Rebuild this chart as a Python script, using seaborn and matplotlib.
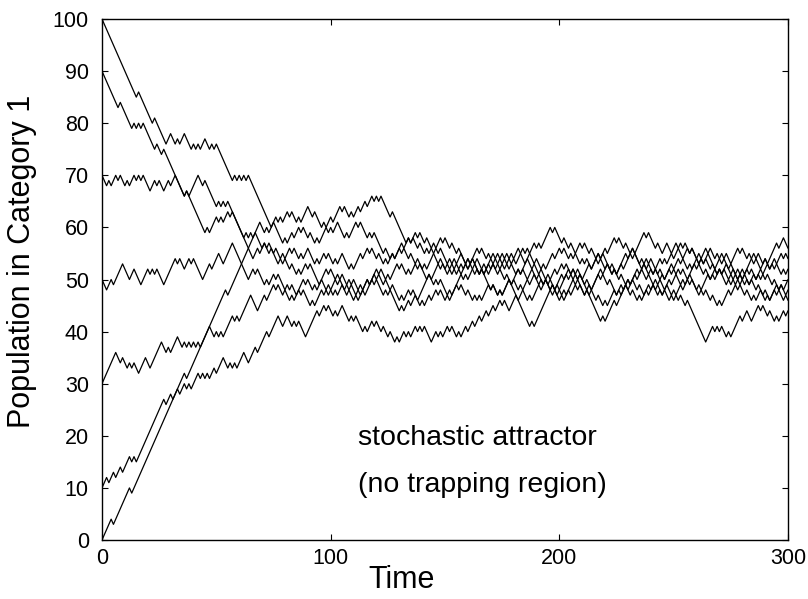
import numpy as np
import pandas as pd
import matplotlib
matplotlib.use("Agg")
import matplotlib.pyplot as plt
import seaborn as sns

# Turning points (time, population) of each trajectory
start100 = [(0,100),(15,85),(16,86),(22,80),(23,81),(28,76),(30,78),(32,76),(33,77),(34,76),(36,78),(39,75),(40,76),(41,75),(42,76),(43,75),(45,77),(47,75),(48,76),(49,75),(50,76),(51,75),(57,69),(58,70),(59,69),(60,70),(61,69),(62,70),(63,69),(64,70),(74,60),(76,62),(77,61),(78,62),(79,61),(81,63),(82,62),(83,63),(85,61),(86,62),(87,61),(90,64),(92,62),(93,63),(96,60),(97,61),(98,60),(100,62),(101,61),(104,64),(105,63),(106,64),(108,62),(109,63),(110,62),(112,64),(113,63),(115,65),(116,64),(118,66),(119,65),(120,66),(121,65),(122,66),(126,62),(127,63),(128,62),(133,57),(134,58),(135,57),(137,59),(138,58),(139,59),(141,57),(142,58),(147,53),(148,54),(150,52),(151,53),(152,52),(154,54),(155,53),(157,55),(159,53),(160,54),(163,51),(164,52),(165,51),(167,53),(168,52),(170,54),(171,53),(173,55),(175,53),(176,54),(178,52),(179,53),(181,51),(182,52),(183,51),(186,54),(188,52),(189,53),(191,51),(192,52),(194,50),(195,51),(196,50),(198,52),(199,51),(201,53),(202,52),(203,53),(205,51),(206,52),(208,50),(209,51),(210,50),(213,53),(214,52),(216,54),(217,53),(218,54),(220,52),(221,53),(223,51),(224,52),(225,51),(227,53),(228,52),(231,55),(232,54),(237,59),(238,58),(239,59),(242,56),(243,57),(245,55),(247,57),(249,55),(251,57),(254,54),(256,56),(257,55),(258,56),(263,51),(264,52),(266,50),(267,51),(268,50),(270,52),(271,51),(273,53),(275,51),(276,52),(278,50),(279,51),(281,49),(282,50),(283,49),(285,51),(286,50),(288,52),(290,50),(291,51),(293,49),(294,50),(296,48),(297,49),(298,48),(300,50)]

start90 = [(0,90),(7,83),(8,84),(13,79),(14,80),(15,79),(16,80),(17,79),(18,80),(19,79),(23,75),(24,76),(26,74),(27,75),(36,66),(37,67),(45,59),(46,60),(47,59),(50,62),(51,61),(52,62),(53,61),(55,63),(56,62),(57,63),(62,58),(63,59),(64,58),(65,59),(66,58),(67,59),(70,56),(71,57),(73,55),(74,56),(77,53),(78,54),(79,53),(80,54),(82,52),(83,53),(85,51),(86,52),(87,51),(89,53),(90,52),(91,53),(95,49),(96,50),(98,48),(99,49),(101,47),(102,48),(103,47),(105,49),(106,48),(108,50),(109,49),(110,50),(112,48),(113,49),(114,48),(116,50),(117,49),(119,51),(120,50),(121,51),(123,49),(124,50),(130,44),(131,45),(132,44),(134,46),(135,45),(137,47),(138,46),(143,51),(145,49),(146,50),(147,49),(148,50),(151,47),(152,48),(153,47),(157,51),(158,50),(159,51),(160,50),(163,53),(165,51),(166,52),(170,48),(171,49),(173,47),(174,48),(175,47),(178,50),(179,49),(182,52),(183,51),(184,52),(186,50),(188,52),(189,51),(191,49),(192,50),(193,49),(194,50),(197,47),(198,48),(199,47),(203,51),(204,50),(205,51),(206,50),(208,52),(209,51),(212,48),(213,49),(214,48),(215,49),(218,52),(219,51),(221,53),(222,52),(223,53),(226,50),(227,51),(229,49),(230,50),(231,49),(233,51),(234,50),(238,54),(239,53),(240,54),(243,51),(244,52),(246,50),(248,52),(249,51),(250,52),(253,49),(254,50),(255,49),(259,53),(260,52),(262,54),(263,53),(264,54),(266,52),(267,53),(268,52),(271,55),(272,54),(273,55),(275,53),(278,56),(279,55),(280,56),(282,54),(283,55),(285,53),(286,54),(288,52),(290,54),(291,53),(295,57),(296,56),(298,58),(300,56)]

start70 = [(0,70),(2,68),(3,69),(4,68),(6,70),(7,69),(8,70),(10,68),(11,69),(12,68),(14,70),(15,69),(16,70),(17,69),(18,70),(21,67),(23,69),(24,68),(25,69),(27,67),(29,69),(30,68),(32,70),(36,66),(37,67),(38,66),(39,67),(42,70),(44,68),(45,69),(50,64),(51,65),(52,64),(53,65),(54,64),(55,65),(66,54),(68,56),(69,55),(71,57),(72,56),(73,57),(75,55),(76,56),(78,54),(79,55),(80,54),(82,56),(83,55),(84,56),(86,54),(87,55),(88,54),(90,56),(91,55),(93,53),(94,54),(95,53),(97,55),(98,54),(99,55),(101,53),(102,54),(103,53),(105,55),(106,54),(108,52),(109,53),(110,52),(113,55),(114,54),(116,56),(117,55),(118,56),(120,54),(121,55),(123,53),(124,54),(125,53),(127,55),(128,54),(130,56),(131,55),(132,56),(134,54),(135,55),(137,53),(138,54),(140,52),(141,53),(142,52),(146,56),(147,55),(148,56),(149,55),(151,53),(152,54),(155,51),(156,52),(157,51),(159,53),(160,52),(161,53),(164,56),(165,55),(166,56),(168,54),(169,55),(170,54),(171,55),(174,52),(175,53),(176,52),(179,55),(180,54),(182,56),(183,55),(185,53),(189,57),(190,56),(191,57),(192,56),(193,57),(196,60),(197,59),(198,60),(201,57),(202,58),(204,56),(205,57),(209,53),(210,54),(211,53),(212,54),(214,52),(217,55),(218,54),(219,55),(220,54),(223,51),(224,52),(225,51),(226,52),(229,55),(230,54),(232,56),(233,55),(236,52),(237,53),(239,51),(240,52),(241,51),(244,54),(245,53),(246,54),(247,53),(249,55),(250,54),(253,57),(254,56),(255,57),(257,55),(258,56),(261,53),(262,54),(263,53),(265,55),(266,54),(269,51),(270,52),(271,51),(272,52),(274,50),(275,51),(277,49),(278,50),(279,49),(282,52),(283,51),(284,52),(286,50),(287,51),(288,50),(291,53),(292,52),(294,54),(295,53),(297,51),(298,52),(299,51),(300,52)]

start50 = [(0,50),(2,48),(4,50),(5,49),(9,53),(12,50),(14,52),(17,49),(20,52),(21,51),(22,52),(23,51),(24,52),(27,49),(32,54),(33,53),(34,54),(36,52),(38,54),(39,53),(40,54),(44,50),(47,53),(48,52),(51,55),(53,53),(57,57),(60,54),(64,50),(66,52),(67,51),(68,52),(71,49),(72,50),(73,49),(75,51),(76,50),(77,51),(80,48),(81,49),(82,48),(83,49),(85,47),(88,50),(89,49),(90,50),(92,48),(93,49),(94,48),(98,52),(99,51),(100,52),(102,50),(103,51),(104,50),(105,51),(108,48),(109,49),(111,47),(112,48),(113,47),(116,50),(117,49),(120,52),(121,51),(122,52),(124,50),(125,51),(126,50),(129,53),(130,52),(131,53),(133,51),(134,52),(135,51),(137,53),(138,52),(139,53),(140,52),(142,50),(143,51),(144,50),(147,53),(148,52),(149,53),(151,51),(152,52),(153,51),(155,53),(156,52),(157,53),(158,52),(160,54),(161,53),(162,54),(165,51),(166,52),(167,51),(169,53),(170,52),(171,53),(173,51),(174,52),(176,50),(177,51),(187,41),(188,42),(189,41),(197,49),(198,48),(199,49),(201,47),(202,48),(203,47),(206,50),(207,49),(208,50),(209,49),(211,47),(212,48),(213,47),(214,48),(217,51),(218,50),(219,51),(221,49),(222,50),(225,47),(226,48),(227,47),(229,49),(230,48),(231,49),(234,52),(235,51),(236,52),(238,50),(239,51),(240,50),(243,47),(244,48),(245,47),(246,48),(248,50),(249,49),(252,52),(253,51),(254,52),(256,50),(257,51),(258,50),(260,48),(261,49),(262,48),(265,51),(266,50),(268,52),(269,51),(270,52),(273,49),(274,50),(275,49),(277,51),(278,50),(280,52),(281,51),(282,52),(285,55),(286,54),(287,55),(289,53),(290,54),(292,52),(293,53),(294,52),(297,55),(298,54),(299,55),(300,54)]

start30 = [(0,30),(6,36),(8,34),(9,35),(11,33),(12,34),(13,33),(14,34),(16,32),(19,35),(21,33),(26,38),(28,36),(29,37),(30,36),(33,39),(35,37),(36,38),(37,37),(38,38),(39,37),(40,38),(41,37),(42,38),(43,37),(44,38),(47,41),(49,39),(50,40),(51,39),(52,40),(53,39),(57,43),(58,42),(59,43),(60,42),(65,47),(68,44),(71,47),(72,46),(75,49),(76,48),(77,49),(79,47),(80,48),(82,46),(83,47),(84,46),(86,48),(87,47),(88,48),(91,45),(92,46),(93,45),(96,48),(97,47),(98,48),(99,47),(102,50),(103,49),(104,50),(107,47),(108,48),(110,46),(111,47),(112,46),(114,48),(115,47),(118,50),(119,49),(120,50),(121,49),(123,47),(124,48),(125,47),(127,49),(128,48),(130,46),(131,47),(132,46),(134,48),(135,47),(136,48),(139,45),(140,46),(141,45),(143,47),(144,46),(146,48),(147,47),(148,48),(150,46),(151,47),(152,46),(155,49),(156,48),(157,49),(159,47),(160,48),(162,46),(163,47),(164,46),(165,47),(166,46),(169,49),(170,48),(171,49),(173,47),(174,48),(175,47),(178,50),(179,49),(180,50),(182,48),(183,49),(184,48),(186,46),(187,47),(188,46),(191,49),(192,48),(194,50),(195,49),(196,50),(200,46),(201,47),(202,46),(204,48),(205,47),(207,49),(208,48),(209,49),(211,47),(212,48),(214,46),(218,42),(219,43),(220,42),(224,46),(225,45),(226,46),(230,50),(231,49),(232,50),(234,48),(235,49),(237,47),(238,48),(239,47),(241,49),(242,48),(243,49),(245,47),(246,48),(248,46),(249,47),(250,46),(253,49),(254,48),(256,50),(257,49),(258,50),(261,47),(262,48),(263,47),(264,48),(266,46),(267,47),(269,45),(270,46),(271,45),(274,48),(275,47),(277,49),(278,48),(279,49),(281,47),(282,48),(284,46),(285,47),(286,46),(288,48),(289,47),(290,48),(292,46),(294,48),(295,47),(296,48),(298,46),(299,47),(300,46)]

start10 = [(0,10),(2,12),(3,11),(5,13),(6,12),(8,14),(9,13),(12,16),(13,15),(14,16),(15,15),(16,16),(27,27),(28,26),(30,28),(31,27),(36,32),(37,31),(54,48),(55,47),(69,61),(71,59),(72,60),(73,59),(75,61),(76,60),(79,57),(80,58),(81,57),(83,59),(84,58),(86,60),(87,59),(88,60),(90,58),(91,59),(93,57),(94,58),(95,57),(98,60),(99,59),(100,60),(101,59),(103,61),(104,60),(106,58),(107,59),(108,58),(111,61),(112,60),(113,61),(116,58),(117,59),(118,58),(119,59),(123,55),(124,56),(126,54),(127,55),(128,54),(131,57),(132,56),(134,58),(135,57),(136,58),(138,56),(139,57),(141,55),(142,56),(143,55),(145,57),(146,56),(148,58),(149,57),(150,58),(152,56),(153,57),(155,55),(156,56),(157,55),(160,52),(162,54),(163,53),(164,54),(167,51),(168,52),(169,51),(171,53),(172,52),(175,55),(176,54),(177,55),(179,53),(180,54),(181,53),(184,56),(185,55),(186,56),(187,55),(189,53),(190,54),(192,52),(193,53),(194,52),(197,55),(198,54),(200,56),(201,55),(202,56),(204,54),(205,55),(206,54),(209,57),(210,56),(211,57),(213,55),(214,56),(216,54),(217,55),(218,54),(220,56),(221,55),(224,58),(225,57),(226,58),(228,56),(229,57),(231,55),(232,56),(233,55),(235,53),(236,54),(238,52),(239,53),(241,51),(242,52),(244,50),(245,51),(246,50),(249,53),(250,52),(252,54),(253,53),(254,54),(256,52),(257,53),(258,52),(261,55),(262,54),(264,56),(265,55),(266,56),(268,54),(269,55),(271,53),(272,54),(274,52),(275,53),(277,51),(278,52),(280,50),(281,51),(283,49),(284,50),(286,48),(287,49),(288,48),(290,46),(291,47),(292,46),(295,49),(296,48),(297,49),(299,47),(300,48)]

start0 = [(0,0),(4,4),(5,3),(12,10),(13,9),(33,29),(34,28),(36,30),(37,29),(38,30),(39,29),(42,32),(43,31),(44,32),(45,31),(46,32),(47,31),(49,33),(50,32),(53,35),(55,33),(56,34),(57,33),(58,34),(59,33),(62,36),(64,34),(67,37),(68,36),(72,40),(73,39),(74,40),(77,43),(79,41),(81,43),(83,41),(84,42),(85,41),(86,42),(89,39),(94,44),(95,43),(97,45),(98,44),(99,45),(101,43),(102,44),(103,43),(105,45),(106,44),(108,42),(109,43),(110,42),(111,43),(114,40),(115,41),(116,40),(118,42),(119,41),(120,42),(122,40),(123,41),(125,39),(126,40),(128,38),(129,39),(130,38),(132,40),(133,39),(134,40),(135,39),(137,41),(138,40),(139,41),(140,40),(141,41),(144,38),(146,40),(147,39),(148,40),(149,39),(151,41),(152,40),(153,41),(155,39),(156,40),(157,39),(159,41),(160,40),(162,42),(163,41),(165,43),(166,42),(168,44),(169,43),(171,45),(172,44),(174,46),(175,45),(176,46),(178,44),(179,45),(181,47),(182,46),(183,47),(186,50),(187,49),(189,51),(190,50),(191,51),(193,49),(194,50),(196,48),(197,49),(198,48),(201,51),(202,50),(204,52),(205,51),(206,52),(208,50),(209,51),(211,49),(212,50),(213,49),(216,46),(217,47),(219,45),(220,46),(221,45),(224,48),(225,47),(227,49),(228,48),(229,49),(231,47),(232,48),(234,46),(235,47),(236,46),(239,49),(240,48),(242,50),(243,49),(244,50),(246,48),(247,49),(249,47),(250,48),(252,46),(253,47),(255,45),(256,46),(257,45),(264,38),(267,41),(268,40),(269,41),(270,40),(271,41),(273,39),(274,40),(275,39),(279,43),(280,42),(282,44),(284,42),(287,45),(288,44),(289,45),(291,43),(292,44),(294,42),(295,43),(296,42),(298,44),(299,43),(300,44)]

trajectories = {"100": start100, "90": start90, "70": start70, "50": start50,
                "30": start30, "10": start10, "0": start0}

x_ticks = [0, 100, 200, 300]
y_ticks = [0, 10, 20, 30, 40, 50, 60, 70, 80, 90, 100]
x_label = "Time"
y_label = "Population in Category 1"
note_lines = ["stochastic attractor", "(no trapping region)"]

sns.set_theme(style="ticks")
plt.rcParams["font.family"] = ["Liberation Sans", "DejaVu Sans"]

frames = []
for name, pts in trajectories.items():
    arr = np.array(pts, dtype=float)
    frames.append(pd.DataFrame({"Time": arr[:, 0], "Population": arr[:, 1], "start": name}))
df = pd.concat(frames, ignore_index=True)

fig = plt.figure(figsize=(8.08, 5.99), dpi=100)
ax = fig.add_axes([102 / 808, 59 / 599, 686 / 808, 521 / 599])

sns.lineplot(data=df, x="Time", y="Population", units="start", estimator=None,
             color="black", linewidth=0.9, sort=False, legend=False, ax=ax)

ax.set_xlim(0, 300)
ax.set_ylim(0, 100)
ax.set_xticks(x_ticks)
ax.set_yticks(y_ticks)
ax.tick_params(direction="in", top=True, right=True, length=4, width=0.8,
               colors="black", labelsize=15.5)
ax.tick_params(axis="y", pad=9.5)
ax.tick_params(axis="x", pad=5.5)
for sp in ax.spines.values():
    sp.set_visible(True)
    sp.set_color("black")
    sp.set_linewidth(1.0)

ax.set_xlabel(x_label, fontsize=22, color="black")
ax.set_ylabel(y_label, fontsize=22, color="black")
ax.xaxis.set_label_coords(0.437, -0.077)
ax.xaxis.label.set_va("center")
ax.yaxis.set_label_coords(-0.1166, 0.535)
ax.yaxis.label.set_va("center")

ax.text(112, 19.6, note_lines[0], fontsize=20.5, va="center", ha="left", color="black")
ax.text(112, 10.6, note_lines[1], fontsize=20.5, va="center", ha="left", color="black")

fig.savefig("out.png", dpi=100)
